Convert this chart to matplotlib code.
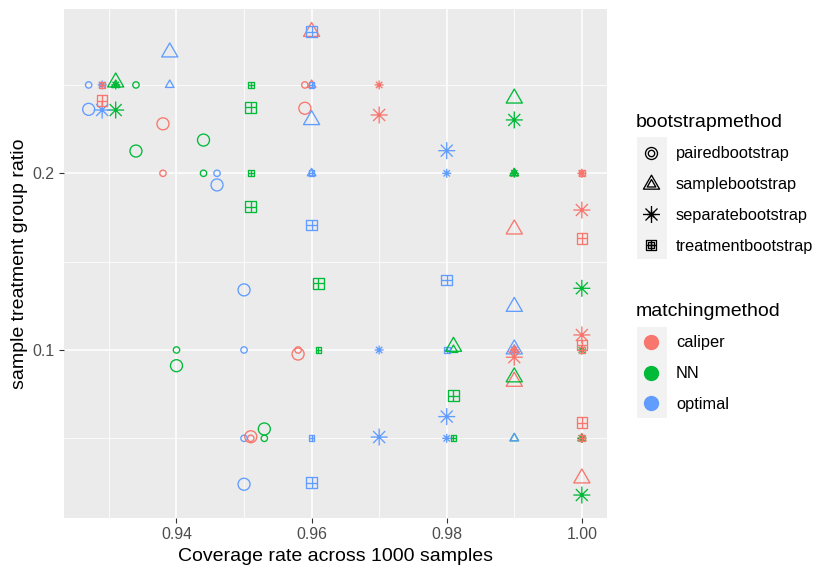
import numpy as np
import pandas as pd
import matplotlib
matplotlib.use('Agg')
import matplotlib.pyplot as plt
from matplotlib.path import Path
from matplotlib.lines import Line2D
from matplotlib.patches import Rectangle
from matplotlib.legend_handler import HandlerTuple

plt.rcParams['font.family'] = ['Liberation Sans', 'DejaVu Sans']

# categories
bootstraps = ['pairedbootstrap', 'samplebootstrap', 'separatebootstrap', 'treatmentbootstrap']
matchings = ['caliper', 'NN', 'optimal']
target_ratio = [0.25, 0.2, 0.1, 0.05]

# coverage rate, rows = caliper / NN / optimal, cols = target ratio
cov_paired = [[0.959, 0.938, 0.958, 0.951],
              [0.934, 0.944, 0.940, 0.953],
              [0.927, 0.946, 0.950, 0.950]]
cov_sample = [[0.960, 0.990, 0.990, 1.000],
              [0.931, 0.990, 0.981, 0.990],
              [0.939, 0.960, 0.990, 0.990]]
cov_separate = [[0.970, 1.000, 0.990, 1.000],
                [0.931, 0.990, 1.000, 1.000],
                [0.929, 0.980, 0.970, 0.980]]
cov_treatment = [[0.929, 1.000, 1.000, 1.000],
                 [0.951, 0.951, 0.961, 0.981],
                 [0.960, 0.960, 0.980, 0.960]]

# observed sample treatment group ratio
sr_paired = [[0.2368, 0.2280, 0.0977, 0.0509],
             [0.2126, 0.2188, 0.0911, 0.0553],
             [0.2362, 0.1934, 0.1340, 0.0240]]
sr_sample = [[0.2801, 0.1683, 0.0821, 0.0274],
             [0.2515, 0.2424, 0.1019, 0.0846],
             [0.2685, 0.2302, 0.1245, 0.1004]]
sr_separate = [[0.2330, 0.1792, 0.0959, 0.1085],
               [0.2358, 0.2302, 0.1349, 0.0179],
               [0.2358, 0.2128, 0.0507, 0.0623]]
sr_treatment = [[0.2411, 0.1632, 0.1028, 0.0589],
                [0.2374, 0.1811, 0.1377, 0.0741],
                [0.2801, 0.1707, 0.1396, 0.0249]]

rows = []
for b, cov, sr in zip(bootstraps,
                      [cov_paired, cov_sample, cov_separate, cov_treatment],
                      [sr_paired, sr_sample, sr_separate, sr_treatment]):
    for m, cr, srr in zip(matchings, cov, sr):
        for t, c, s in zip(target_ratio, cr, srr):
            rows.append((b, m, t, c, s))
df = pd.DataFrame(rows, columns=['bootstrapmethod', 'matchingmethod', 'ratio', 'coverage', 'sampleratio'])

colors = {'caliper': '#F8766D', 'NN': '#00BA38', 'optimal': '#619CFF'}

# R style point shapes (1, 2, 8, 12)
M, L, C = Path.MOVETO, Path.LINETO, Path.CLOSEPOLY
tri = Path([(0, 1), (-0.866, -0.5), (0.866, -0.5), (0, 1)], [M, L, L, C])
star_v, star_c = [], []
for a in np.deg2rad([0, 45, 90, 135]):
    star_v += [(-np.cos(a), -np.sin(a)), (np.cos(a), np.sin(a))]
    star_c += [M, L]
star = Path(star_v, star_c)
sqplus = Path([(-1, -1), (1, -1), (1, 1), (-1, 1), (-1, -1),
               (0, -1), (0, 1), (-1, 0), (1, 0)],
              [M, L, L, L, C, M, L, M, L])
shapes = {'pairedbootstrap': 'o', 'samplebootstrap': tri,
          'separatebootstrap': star, 'treatmentbootstrap': sqplus}
# marker size relative to R size unit
shape_scale = {'pairedbootstrap': 0.75, 'samplebootstrap': 1.166,
               'separatebootstrap': 1.06, 'treatmentbootstrap': 0.665}
small_k, large_k = 8.5, 16.0  # px
lw = 0.95


def ms(b, k):
    return shape_scale[b] * k * 0.72


W, H = 830, 575
fig = plt.figure(figsize=(W / 100, H / 100), dpi=100)
ax = fig.add_axes([64 / W, 1 - 518.2 / H, (606.5 - 64) / W, (518.2 - 8.6) / H])
ax.set_facecolor('#EBEBEB')

for ycol, k in [('ratio', small_k), ('sampleratio', large_k)]:
    for b in bootstraps:
        for m in matchings:
            sub = df[(df['bootstrapmethod'] == b) & (df['matchingmethod'] == m)]
            ax.scatter(sub['coverage'], sub[ycol], marker=shapes[b], s=ms(b, k) ** 2,
                       facecolors='none', edgecolors=colors[m], linewidths=lw, zorder=3)

xmin, xmax = df['coverage'].min(), df['coverage'].max()
ymin = min(df['ratio'].min(), df['sampleratio'].min())
ymax = max(df['ratio'].max(), df['sampleratio'].max())
ax.set_xlim(xmin - 0.05 * (xmax - xmin), xmax + 0.05 * (xmax - xmin))
ax.set_ylim(ymin - 0.05 * (ymax - ymin), ymax + 0.05 * (ymax - ymin))

ax.set_xticks([0.94, 0.96, 0.98, 1.00])
ax.set_xticklabels(['0.94', '0.96', '0.98', '1.00'])
ax.set_xticks([0.93, 0.95, 0.97, 0.99], minor=True)
ax.set_yticks([0.1, 0.2])
ax.set_yticklabels(['0.1', '0.2'])
ax.set_yticks([0.05, 0.15, 0.25], minor=True)
ax.grid(which='major', color='white', linewidth=1.1, zorder=0)
ax.grid(which='minor', color='white', linewidth=0.55, zorder=0)
ax.set_axisbelow(True)
for s in ax.spines.values():
    s.set_visible(False)
ax.tick_params(which='major', length=3.7, width=0.8, color='#333333',
               labelsize=11.4, labelcolor='#4D4D4D', pad=2.9)
ax.tick_params(which='minor', length=0)
ax.set_xlabel('Coverage rate across 1000 samples', fontsize=14, labelpad=3.7)
ax.set_ylabel('sample treatment group ratio', fontsize=14, labelpad=3.7)

# legends
shape_handles = []
for b in bootstraps:
    h_small = Line2D([], [], linestyle='none', marker=shapes[b], markersize=ms(b, small_k),
                     markerfacecolor='none', markeredgecolor='black', markeredgewidth=lw)
    h_large = Line2D([], [], linestyle='none', marker=shapes[b], markersize=ms(b, large_k),
                     markerfacecolor='none', markeredgecolor='black', markeredgewidth=lw)
    shape_handles.append((h_small, h_large))
color_handles = [Line2D([], [], linestyle='none', marker='o', markersize=10,
                        markerfacecolor=colors[m], markeredgecolor=colors[m])
                 for m in matchings]

leg_kw = dict(loc='upper left', frameon=False, fontsize=11.8, title_fontsize=14,
              alignment='left', borderpad=0, borderaxespad=0, handlelength=1.83,
              handleheight=0.7, handletextpad=0.61, labelspacing=0.97, numpoints=1,
              handler_map={tuple: HandlerTuple(ndivide=1)})
leg1 = fig.legend(shape_handles, bootstraps, title='bootstrapmethod',
                  bbox_to_anchor=(636 / W, 1 - 113.5 / H), **leg_kw)
leg2 = fig.legend(color_handles, matchings, title='matchingmethod',
                  bbox_to_anchor=(636 / W, 1 - 302.5 / H), **leg_kw)

# grey key backgrounds
for y0, y1 in [(137, 259), (327, 418)]:
    fig.patches.append(Rectangle((637 / W, 1 - y1 / H), 30 / W, (y1 - y0) / H,
                                 transform=fig.transFigure, facecolor='#F2F2F2',
                                 edgecolor='none', zorder=0))

fig.savefig('out.png', dpi=100)
